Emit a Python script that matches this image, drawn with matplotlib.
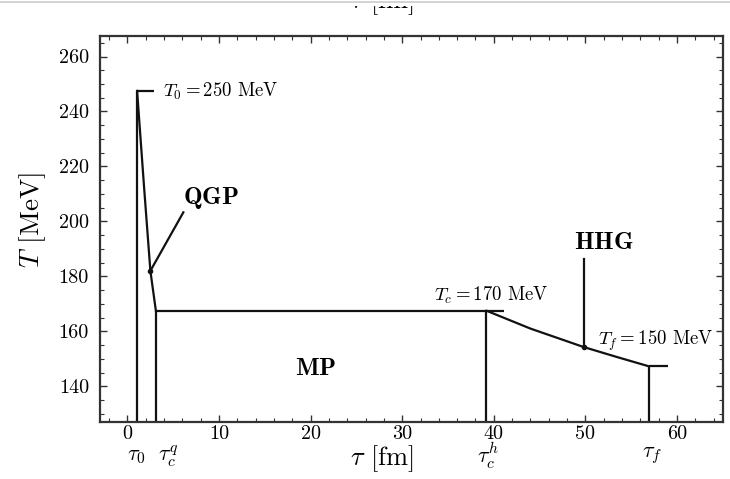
"""
Temperature evolution T(tau) of the fireball: QGP -> mixed phase -> hadron gas
"""
import matplotlib.pyplot as plt
from matplotlib.ticker import MultipleLocator
from matplotlib.patches import Rectangle
from matplotlib.lines import Line2D

plt.rcParams['font.family'] = 'serif'
plt.rcParams['font.serif'] = ['cmr10', 'DejaVu Serif']
plt.rcParams['mathtext.fontset'] = 'cm'
plt.rcParams['axes.formatter.use_mathtext'] = True

# characteristic times [fm] and temperatures [MeV]
tau0, tau_cq, tau_ch, tau_f = 1.05, 3.1, 39.2, 56.9
T0, Tc, Tf = 247.5, 167.5, 147.3

# QGP cooling branch
qgp_tau = [1.05, 1.8, 2.5, 3.1]
qgp_T = [247.5, 213.0, 182.0, 167.5]

# hadron gas cooling branch
hhg_tau = [39.2, 44.0, 49.8, 53.5, 56.9]
hhg_T = [167.5, 161.0, 154.3, 150.6, 147.3]

# pointer lines for the phase labels
qgp_ptr_tau = [2.5, 6.1]
qgp_ptr_T = [182.0, 203.3]
hhg_ptr_tau = [49.8, 49.8]
hhg_ptr_T = [154.3, 186.5]

xlim = (-3, 65)
ylim = (127, 267.5)
lc = '#111111'
lw = 1.6

fig = plt.figure(figsize=(7.3, 4.79), dpi=100)
ax = fig.add_axes([0.137, 0.119, 0.853, 0.806])

# vertical lines at the characteristic times
ax.vlines([tau0], ylim[0], T0, color=lc, lw=lw)
ax.vlines([tau_cq, tau_ch], ylim[0], Tc, color=lc, lw=lw)
ax.vlines([tau_f], ylim[0], Tf, color=lc, lw=lw)

# short horizontal caps and the mixed phase plateau
ax.hlines(T0, tau0, 2.85, color=lc, lw=lw)
ax.hlines(Tc, tau_cq, 41.1, color=lc, lw=lw)
ax.hlines(Tf, tau_f, 59.0, color=lc, lw=lw)

# cooling curves
ax.plot(qgp_tau, qgp_T, color=lc, lw=lw)
ax.plot(hhg_tau, hhg_T, color=lc, lw=lw)

# pointers
ax.plot(qgp_ptr_tau, qgp_ptr_T, color=lc, lw=lw)
ax.plot(hhg_ptr_tau, hhg_ptr_T, color=lc, lw=lw)
ax.plot([qgp_ptr_tau[0], hhg_ptr_tau[0]], [qgp_ptr_T[0], hhg_ptr_T[0]],
        'o', ms=3, color=lc, ls='none')

# annotations
ax.text(3.9, 247.3, r'$T_0 = 250$ MeV', fontsize=13.5, va='center', ha='left')
ax.text(39.7, 172.9, r'$T_c = 170$ MeV', fontsize=13.5, va='center', ha='center')
ax.text(51.4, 156.4, r'$T_f = 150$ MeV', fontsize=13.5, va='center', ha='left')
ax.text(9.1, 208.4, r'$\mathbf{QGP}$', fontsize=18, va='center', ha='center')
ax.text(52.0, 192.0, r'$\mathbf{HHG}$', fontsize=18, va='center', ha='center')
ax.text(20.5, 146.3, r'$\mathbf{MP}$', fontsize=18, va='center', ha='center')

# time labels below the tick labels
xtr = ax.get_xaxis_transform()
for xpos, lab in [(1.0, r'$\tau_0$'), (4.4, r'$\tau_c^q$'),
                  (39.3, r'$\tau_c^h$'), (57.3, r'$\tau_f$')]:
    ax.text(xpos, -0.088, lab, transform=xtr, fontsize=16,
            ha='center', va='center')

ax.set_xlim(*xlim)
ax.set_ylim(*ylim)
ax.xaxis.set_major_locator(MultipleLocator(10))
ax.xaxis.set_minor_locator(MultipleLocator(2))
ax.yaxis.set_major_locator(MultipleLocator(20))
ax.yaxis.set_minor_locator(MultipleLocator(5))
ax.yaxis.set_major_formatter(plt.FormatStrFormatter('%d'))
ax.xaxis.set_major_formatter(plt.FormatStrFormatter('%d'))
ax.tick_params(which='both', direction='in', top=True, right=True,
               color='#333333', labelsize=14.5)
ax.tick_params(which='major', length=5, width=1.0)
ax.tick_params(which='minor', length=3, width=0.8)
ax.tick_params(axis='y', pad=8)
ax.tick_params(axis='x', pad=2)
for s in ax.spines.values():
    s.set_linewidth(1.6)
    s.set_color('#333333')

# axis titles
fig.text(0.523, 0.029, r'$\tau$ [fm]', fontsize=19, ha='center', va='baseline')
fig.text(0.045, 0.541, r'$T$ [MeV]', fontsize=19.5, ha='center', va='center',
         rotation=90)

# cropped label of the figure above and the page edge
fig.text(0.523, 0.983, r'$\tau$ [fm]', fontsize=19, ha='center', va='baseline')
fig.patches.append(Rectangle((0, 1 - 6 / 479), 1, 6 / 479, transform=fig.transFigure,
                             facecolor='white', edgecolor='none', zorder=5))
fig.lines.append(Line2D([0, 1], [1 - 2 / 479] * 2, transform=fig.transFigure,
                        color='#cccccc', lw=1.2, zorder=6))

fig.savefig('out.png', dpi=100)
